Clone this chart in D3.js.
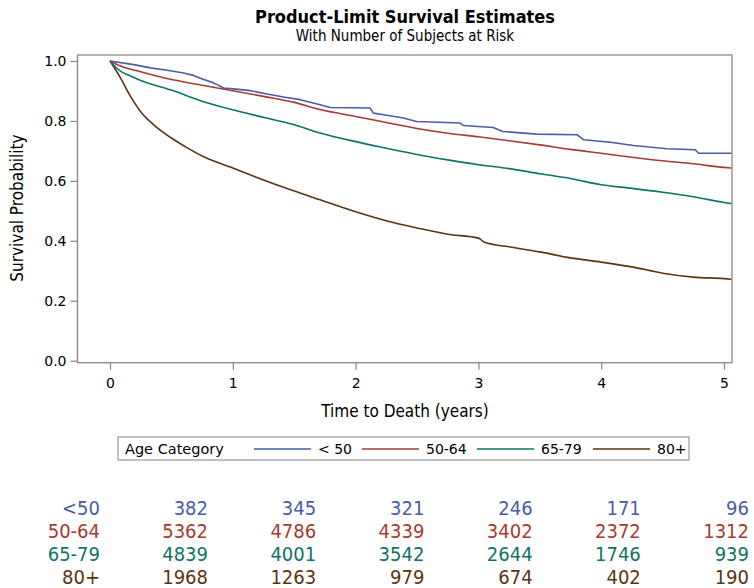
<!DOCTYPE html>
<html><head><meta charset="utf-8">
<script src="https://cdn.jsdelivr.net/npm/d3@7"></script>
<style>
html,body{margin:0;padding:0;background:#fff;}
svg{display:block;}
</style></head>
<body>
<script>
// ---------------- DATA ----------------
const groups = ["< 50", "50-64", "65-79", "80+"];
const riskLabels = ["<50", "50-64", "65-79", "80+"];
const riskTimes = [0, 1, 2, 3, 4, 5];
const xTicks = [0, 1, 2, 3, 4, 5];
const yTicks = [0.0, 0.2, 0.4, 0.6, 0.8, 1.0];

// survival curves: [time (years), survival]
const survLt50 = [[0,1.0],[0.194,0.988],[0.329,0.977],[0.465,0.969],[0.60,0.960],[0.68,0.952],[0.763,0.938],[0.844,0.927],[0.925,0.910],[1.007,0.907],[1.142,0.901],[1.278,0.890],[1.413,0.880],[1.549,0.871],[1.711,0.854],[1.793,0.845],[2.118,0.843],[2.145,0.826],[2.254,0.819],[2.389,0.810],[2.497,0.798],[2.85,0.793],[2.877,0.785],[3.12,0.778],[3.20,0.765],[3.473,0.756],[3.803,0.754],[3.858,0.737],[4.075,0.729],[4.264,0.718],[4.535,0.707],[4.766,0.704],[4.793,0.692],[5.06,0.692]];
const surv50_64 = [[0,1.0],[0.085,0.983],[0.25,0.964],[0.5,0.938],[0.75,0.919],[1.0,0.901],[1.25,0.882],[1.5,0.862],[1.71,0.838],[2.0,0.815],[2.25,0.795],[2.5,0.775],[2.75,0.759],[3.0,0.747],[3.25,0.734],[3.5,0.720],[3.75,0.705],[4.0,0.692],[4.25,0.679],[4.5,0.667],[4.75,0.657],[5.0,0.645],[5.06,0.643]];
const surv65_79 = [[0,1.0],[0.085,0.966],[0.167,0.950],[0.25,0.935],[0.5,0.903],[0.75,0.866],[1.0,0.837],[1.25,0.812],[1.5,0.787],[1.71,0.760],[2.0,0.731],[2.25,0.709],[2.5,0.688],[2.75,0.670],[3.0,0.654],[3.25,0.641],[3.5,0.624],[3.75,0.608],[4.0,0.587],[4.25,0.575],[4.5,0.562],[4.75,0.547],[5.0,0.528],[5.06,0.524]];
const surv80p = [[0,1.0],[0.085,0.944],[0.167,0.882],[0.25,0.831],[0.356,0.787],[0.5,0.743],[0.63,0.710],[0.75,0.683],[1.0,0.643],[1.25,0.603],[1.5,0.566],[1.71,0.537],[2.0,0.497],[2.25,0.467],[2.5,0.443],[2.75,0.422],[3.0,0.409],[3.05,0.395],[3.25,0.380],[3.5,0.363],[3.75,0.343],[4.0,0.329],[4.25,0.313],[4.5,0.292],[4.75,0.279],[5.0,0.274],[5.06,0.272]];

// number at risk at times 0..5
const riskLt50 = [382, 345, 321, 246, 171, 96];
const risk50_64 = [5362, 4786, 4339, 3402, 2372, 1312];
const risk65_79 = [4839, 4001, 3542, 2644, 1746, 939];
const risk80p = [1968, 1263, 979, 674, 402, 190];

const colors = ["#4c5ba6", "#a83a32", "#0e7466", "#5a3510"];
// ---------------------------------------

const curves = [survLt50, surv50_64, surv65_79, surv80p];
const risks = [riskLt50, risk50_64, risk65_79, risk80p];

const W = 754, H = 588;
const svg = d3.select("body").append("svg").attr("width", W).attr("height", H);

const frame = {left: 77.5, right: 732, top: 55, bottom: 362.7};
const x = d3.scaleLinear().domain([0, 5]).range([110, 724]);
const y = d3.scaleLinear().domain([0, 1]).range([360.7, 61]);

const narrow = "'Liberation Sans Narrow', 'DejaVu Sans Condensed', 'Arial Narrow', sans-serif";
const legendFont = "'DejaVu Sans', 'Liberation Sans', sans-serif";

// titles
svg.append("text").attr("x", 405).attr("y", 23).attr("text-anchor", "middle")
  .attr("font-family", narrow).attr("font-weight", "bold").attr("font-size", 18)
  .attr("fill", "#000").text("Product-Limit Survival Estimates");
svg.append("text").attr("x", 405).attr("y", 41).attr("text-anchor", "middle")
  .attr("font-family", narrow).attr("font-size", 15)
  .attr("fill", "#000").text("With Number of Subjects at Risk");

// clip
svg.append("clipPath").attr("id", "clip").append("rect")
  .attr("x", frame.left).attr("y", frame.top)
  .attr("width", frame.right - frame.left).attr("height", frame.bottom - frame.top);

// axes
const xAxis = d3.axisBottom(x).tickValues(xTicks).tickSize(7).tickPadding(8).tickFormat(d3.format("d"));
const gx = svg.append("g").attr("transform", `translate(0,${frame.bottom})`).call(xAxis);
gx.select(".domain").remove();
const yAxis = d3.axisLeft(y).tickValues(yTicks).tickSize(7).tickPadding(4).tickFormat(d3.format(".1f"));
const gy = svg.append("g").attr("transform", `translate(${frame.left},0)`).call(yAxis);
gy.select(".domain").remove();
[gx, gy].forEach(g => {
  g.selectAll("line").attr("stroke", "#888").attr("stroke-width", 1.2);
  g.selectAll("text").attr("font-family", legendFont).attr("font-size", 14).attr("fill", "#000");
});

// frame
svg.append("rect").attr("x", frame.left).attr("y", frame.top)
  .attr("width", frame.right - frame.left).attr("height", frame.bottom - frame.top)
  .attr("fill", "none").attr("stroke", "#888").attr("stroke-width", 1.3);

// curves (blue drawn with its visible steps, the dense groups drawn smoothly)
const curveTypes = [d3.curveLinear, d3.curveMonotoneX, d3.curveMonotoneX, d3.curveMonotoneX];
svg.append("g").attr("clip-path", "url(#clip)").selectAll("path")
  .data([3, 2, 1, 0]).join("path")
  .attr("d", k => d3.line().x(d => x(d[0])).y(d => y(d[1])).curve(curveTypes[k])(curves[k]))
  .attr("fill", "none")
  .attr("stroke", k => colors[k]).attr("stroke-width", 1.6)
  .attr("stroke-linejoin", "round");

// axis titles
svg.append("text").attr("x", 405).attr("y", 417).attr("text-anchor", "middle")
  .attr("font-family", narrow).attr("font-size", 17).attr("fill", "#000")
  .text("Time to Death (years)");
svg.append("text").attr("transform", "translate(23,208) rotate(-90)").attr("text-anchor", "middle")
  .attr("font-family", narrow).attr("font-size", 17).attr("fill", "#000")
  .text("Survival Probability");

// legend
const lg = svg.append("g");
lg.append("rect").attr("x", 118).attr("y", 437).attr("width", 571).attr("height", 23)
  .attr("fill", "none").attr("stroke", "#999").attr("stroke-width", 1.2);
lg.append("text").attr("x", 125).attr("y", 449).attr("dy", "0.35em")
  .attr("font-family", legendFont).attr("font-size", 14.5).attr("fill", "#000").text("Age Category");
const legX = [254, 362, 477, 593];
groups.forEach((g, i) => {
  lg.append("line").attr("x1", legX[i]).attr("x2", legX[i] + 57).attr("y1", 449).attr("y2", 449)
    .attr("stroke", colors[i]).attr("stroke-width", 1.5);
  lg.append("text").attr("x", legX[i] + 64).attr("y", 449).attr("dy", "0.35em")
    .attr("font-family", legendFont).attr("font-size", 14).attr("fill", "#000").text(g);
});

// risk table
const rx = d3.scaleLinear().domain([0, 5]).range([208, 749]);
const rowY = [508, 531, 554, 577];
riskLabels.forEach((lab, i) => {
  svg.append("text").attr("x", 100).attr("y", rowY[i]).attr("dy", "0.35em")
    .attr("text-anchor", "end").attr("font-family", narrow).attr("font-size", 20)
    .attr("fill", colors[i]).text(lab);
  svg.append("g").selectAll("text").data(risks[i]).join("text")
    .attr("x", (d, j) => rx(riskTimes[j])).attr("y", rowY[i]).attr("dy", "0.35em")
    .attr("text-anchor", "end").attr("font-family", narrow).attr("font-size", 20)
    .attr("fill", colors[i]).text(d => d);
});
</script>
</body></html>
